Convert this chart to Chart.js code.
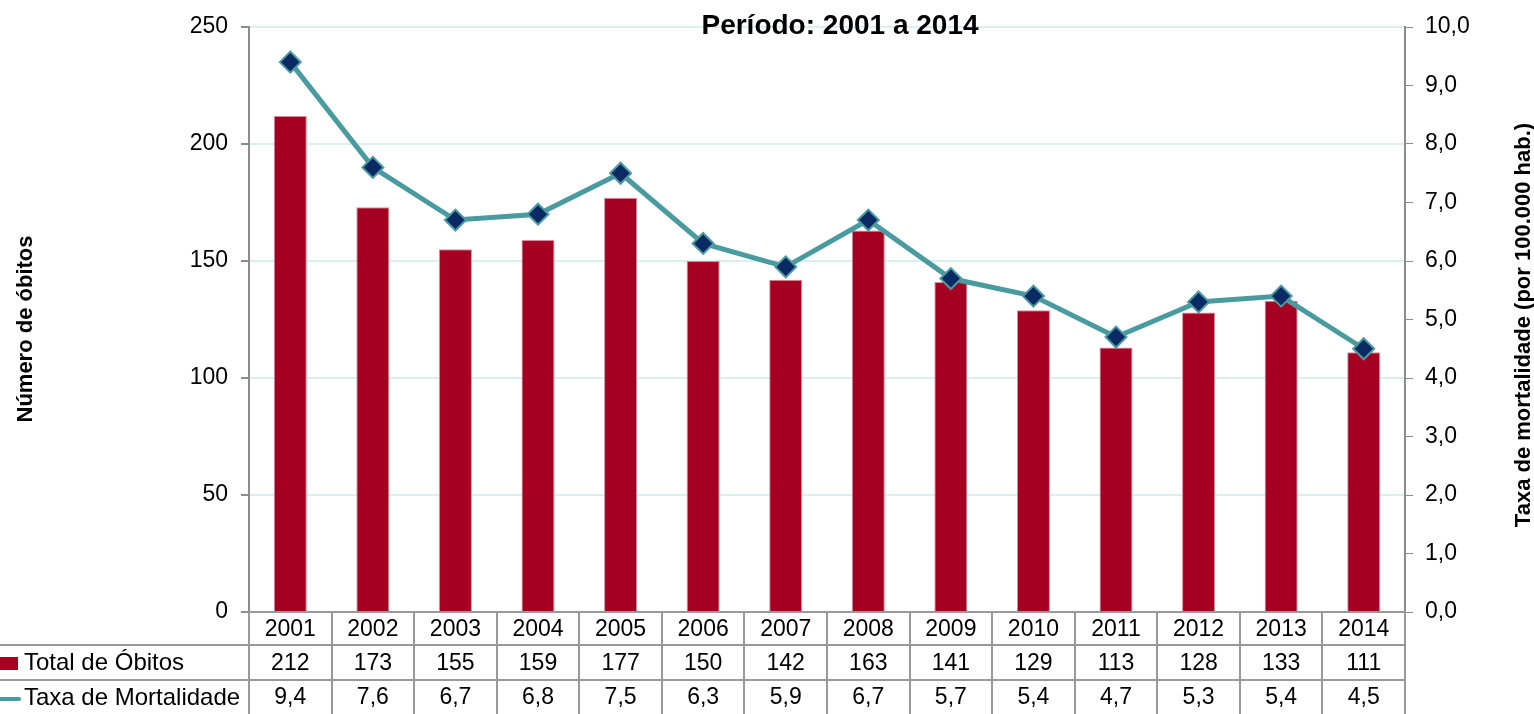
<!DOCTYPE html>
<html><head><meta charset="utf-8">
<script src="https://cdn.jsdelivr.net/npm/chart.js@4/dist/chart.umd.min.js"></script>
<style>html,body{margin:0;padding:0;background:#fff;overflow:hidden}#c{display:block}</style>
</head><body><canvas id="c" width="1534" height="714"></canvas>
<script>
const categories = ['2001','2002','2003','2004','2005','2006','2007','2008','2009','2010','2011','2012','2013','2014'];
const totalObitos = [212,173,155,159,177,150,142,163,141,129,113,128,133,111];
const taxaMortalidade = [9.4,7.6,6.7,6.8,7.5,6.3,5.9,6.7,5.7,5.4,4.7,5.3,5.4,4.5];
const seriesNames = ['Total de Óbitos','Taxa de Mortalidade'];
const titleText = 'Período: 2001 a 2014';
const leftTitle = 'Número de óbitos';
const rightTitle = 'Taxa de mortalidade (por 100.000 hab.)';

const FONT = "'Liberation Sans', Arial, sans-serif";
const BAR = '#a50021', LINE = '#4a9ba0', MARK = '#0b2a63', GRID = '#dcefef', AXIS = '#8c8c8c';
const fmt = v => v.toFixed(1).replace('.', ',');

const extras = {
  id: 'extras',
  afterDraw(chart) {
    const ctx = chart.ctx, ca = chart.chartArea, x = chart.scales.x;
    const n = categories.length, cw = (ca.right - ca.left) / n;
    const r0 = ca.bottom, r1 = 645, r2 = 680, r3 = 714;
    ctx.save();
    ctx.strokeStyle = '#999'; ctx.lineWidth = 2;
    ctx.beginPath();
    ctx.moveTo(ca.left, r0); ctx.lineTo(ca.right, r0);
    ctx.moveTo(0, r1); ctx.lineTo(ca.right, r1);
    ctx.moveTo(0, r2); ctx.lineTo(ca.right, r2);
    for (let i = 0; i <= n; i++) {
      const xx = Math.round(ca.left + i * cw);
      ctx.moveTo(xx, r0); ctx.lineTo(xx, r3);
    }
    ctx.stroke();
    ctx.fillStyle = '#000'; ctx.font = '23px ' + FONT; ctx.textAlign = 'center'; ctx.textBaseline = 'middle';
    for (let i = 0; i < n; i++) {
      const cx = x.getPixelForValue(i);
      ctx.fillText(categories[i], cx, (r0 + r1) / 2 + 1);
      ctx.fillText(String(totalObitos[i]), cx, (r1 + r2) / 2 + 1);
      ctx.fillText(fmt(taxaMortalidade[i]), cx, (r2 + r3) / 2 + 1);
    }
    ctx.textAlign = 'left';
    ctx.fillStyle = BAR; ctx.fillRect(0, 657, 18, 13);
    ctx.strokeStyle = LINE; ctx.lineWidth = 4; ctx.lineCap = 'round';
    ctx.beginPath(); ctx.moveTo(1, 699); ctx.lineTo(19, 699); ctx.stroke();
    ctx.fillStyle = '#000'; ctx.font = '24px ' + FONT;
    ctx.fillText(seriesNames[0], 24, (r1 + r2) / 2 + 1);
    ctx.fillText(seriesNames[1], 24, (r2 + r3) / 2 + 1);
    ctx.font = 'bold 28px ' + FONT; ctx.textAlign = 'center';
    ctx.fillText(titleText, 840, 26);
    ctx.font = 'bold 22px ' + FONT;
    ctx.save(); ctx.translate(26, 329); ctx.rotate(-Math.PI / 2); ctx.fillText(leftTitle, 0, 0); ctx.restore();
    ctx.save(); ctx.translate(1524, 325); ctx.rotate(-Math.PI / 2); ctx.fillText(rightTitle, 0, 0); ctx.restore();
    ctx.restore();
  }
};

new Chart(document.getElementById('c'), {
  data: {
    labels: categories,
    datasets: [
      { type: 'line', label: seriesNames[1], data: taxaMortalidade, yAxisID: 'y2',
        borderColor: LINE, borderWidth: 5, tension: 0,
        pointStyle: 'rectRot', pointRadius: 10.5, pointBackgroundColor: MARK, pointBorderColor: LINE, pointBorderWidth: 2, order: 0 },
      { type: 'bar', label: seriesNames[0], data: totalObitos, yAxisID: 'y',
        backgroundColor: BAR, borderColor: '#d98a9c', borderWidth: 1,
        barPercentage: 0.4, categoryPercentage: 1, order: 1 }
    ]
  },
  options: {
    responsive: false, animation: false,
    devicePixelRatio: 1,
    layout: { padding: { top: 27, bottom: 102, left: 0, right: 0 } },
    plugins: { legend: { display: false }, tooltip: { enabled: false } },
    scales: {
      x: { display: false, offset: true },
      y: { position: 'left', min: 0, max: 250,
        ticks: { stepSize: 50, color: '#000', font: { family: FONT, size: 23 }, padding: 13 },
        grid: { color: GRID, lineWidth: 2, tickColor: AXIS, tickLength: 8, drawTicks: true },
        border: { color: AXIS, width: 2 },
        afterFit: s => { s.width = 249; } },
      y2: { position: 'right', min: 0, max: 10,
        ticks: { stepSize: 1, color: '#000', font: { family: FONT, size: 23 }, padding: 12, callback: v => fmt(v) },
        grid: { drawOnChartArea: false, tickColor: AXIS, tickLength: 8 },
        border: { color: AXIS, width: 2 },
        afterFit: s => { s.width = 129; } }
    }
  },
  plugins: [extras]
});
</script>
</body></html>
